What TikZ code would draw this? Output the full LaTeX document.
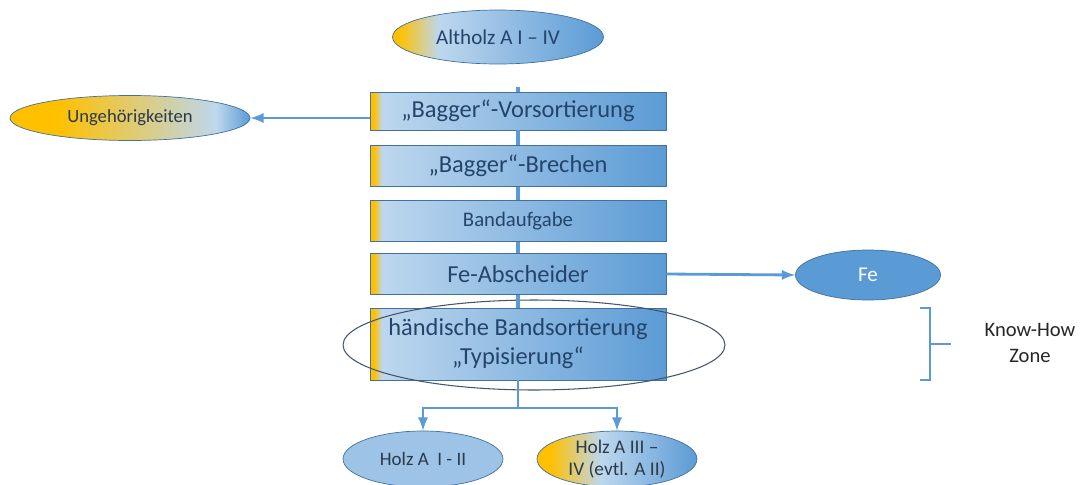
\documentclass[tikz,border=0pt]{standalone}
\usepackage{fontspec}
\setmainfont{Carlito}
\usetikzlibrary{shapes.geometric, arrows}

\definecolor{boxline}{HTML}{41719C}
\definecolor{lineblue}{HTML}{5B9BD5}
\definecolor{lightblue}{HTML}{BDD7EE}
\definecolor{midblue}{HTML}{9DC3E6}
\definecolor{gold}{HTML}{FFC000}
\definecolor{txtblue}{HTML}{24446B}
\definecolor{txtgray}{HTML}{2B3A4A}
\definecolor{zoneline}{HTML}{44546A}

\pgfdeclarehorizontalshading{boxshade}{100bp}{color(0bp)=(gold); color(25bp)=(gold); color(25.7bp)=(gold); color(27bp)=(lightblue); color(75bp)=(lineblue); color(100bp)=(lineblue)}
\pgfdeclarehorizontalshading{altshade}{100bp}{color(0bp)=(gold); color(25bp)=(gold); color(26.5bp)=(gold); color(36bp)=(lightblue); color(75bp)=(lineblue); color(100bp)=(lineblue)}
\pgfdeclarehorizontalshading{ungshade}{100bp}{color(0bp)=(gold); color(25bp)=(gold); color(35bp)=(gold); color(68bp)=(lightblue); color(75bp)=(lineblue); color(100bp)=(lineblue)}
\pgfdeclarehorizontalshading{holzshade}{100bp}{color(0bp)=(gold); color(25bp)=(gold); color(29bp)=(gold); color(45bp)=(lightblue); color(75bp)=(lineblue); color(100bp)=(lineblue)}

\begin{document}
\begin{tikzpicture}[x=0.02cm, y=-0.02cm]
\tikzstyle{stepbox}=[rectangle, draw=boxline, shading=boxshade, minimum width=5.92cm, minimum height=0.82cm, inner sep=0pt, text=txtblue, align=center, font=\fontsize{13.9}{16.5}\selectfont]
\tikzstyle{blob}=[ellipse, draw=boxline, inner sep=0pt, align=center, text=txtgray]
\tikzstyle{spine}=[draw=lineblue, line width=2.2pt]
\tikzstyle{arrow}=[draw=lineblue, line width=1.6pt, ->, >=latex]
\useasboundingbox (0,0) rectangle (1086,484);

\node[blob, shading=altshade, minimum width=4.22cm, minimum height=1.08cm, text=txtblue, font=\fontsize{12}{14}\selectfont] (alt) at (498,37) {Altholz A I -- IV};
\node[stepbox, minimum height=0.76cm] (vor) at (518,111) {„Bagger“-Vorsortierung};
\node[stepbox] (brech) at (518,166) {„Bagger“-Brechen};
\node[stepbox, font=\fontsize{11.8}{14}\selectfont] (band) at (518,221) {Bandaufgabe};
\node[stepbox] (fe) at (518,274) {Fe-Abscheider};
\node[stepbox, minimum height=1.44cm] (typ) at (518,344) {händische Bandsortierung\\„Typisierung“};
\node[ellipse, draw=zoneline, line width=0.6pt, minimum width=7.64cm, minimum height=1.8cm] (zone) at (534,345) {};

\node[blob, shading=ungshade, minimum width=4.8cm, minimum height=0.9cm, font=\fontsize{10.6}{12.5}\selectfont] (ung) at (130,118) {Ungehörigkeiten};
\node[blob, fill=lineblue, minimum width=2.9cm, minimum height=1cm, text=white, font=\fontsize{12}{14}\selectfont] (feout) at (868,275) {Fe};
\node[blob, fill=midblue, minimum width=3.2cm, minimum height=1.12cm, font=\fontsize{10.8}{12.5}\selectfont] (holz1) at (423,459) {Holz A\ \ I - II};
\node[blob, shading=holzshade, minimum width=3.2cm, minimum height=1.12cm, font=\fontsize{11}{12.5}\selectfont] (holz3) at (617,459) {Holz A III --\\IV (evtl. A II)};
\node[align=center, text=black!85, font=\fontsize{11.7}{14.5}\selectfont] (know) at (1030,343) {Know-How\\Zone};

% Verbindungen
\coordinate (stub) at (518,87);
\coordinate (split) at (518,408);
\draw[spine] (stub) -- (vor.north);
\draw[spine] (vor.south) -- (brech.north);
\draw[spine] (brech.south) -- (band.north);
\draw[spine] (band.south) -- (fe.north);
\draw[spine] (fe.south) -- (typ.north);
\draw[arrow] (vor.west |- ung.east) -- (ung.east);
\draw[arrow] (fe.east) -- (feout.west);
\draw[draw=lineblue, line width=1.6pt] (typ.south) -- (split);
\draw[arrow] (split) -| (holz1.north);
\draw[arrow] (split) -| (holz3.north);

% Klammer
\draw[draw=lineblue, line width=1.6pt] (920,308) -- (930,308) -- (930,380) -- (920,380) (930,344) -- (951,344);
\end{tikzpicture}
\end{document}
